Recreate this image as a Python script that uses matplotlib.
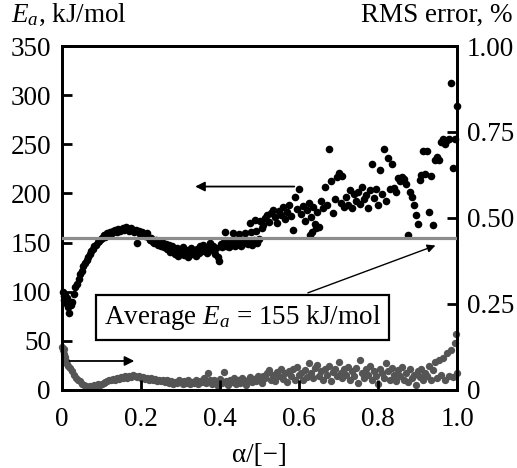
import matplotlib
matplotlib.use("Agg")
import matplotlib.pyplot as plt

plt.rcParams["font.family"] = ["Liberation Serif", "DejaVu Serif"]
plt.rcParams["mathtext.fontset"] = "custom"
plt.rcParams["mathtext.rm"] = "Liberation Serif"
plt.rcParams["mathtext.it"] = "Liberation Serif:italic"
plt.rcParams["font.size"] = 19.5

# activation energy Ea (kJ/mol) vs conversion alpha
alpha_ea = [0.002, 0.004, 0.006, 0.008, 0.010, 0.012, 0.015, 0.018, 0.022, 0.026, 0.030, 0.034, 0.038, 0.042,
            0.046, 0.050, 0.054, 0.058, 0.062, 0.066, 0.070, 0.074, 0.078, 0.082, 0.086, 0.090, 0.094, 0.098,
            0.102, 0.106, 0.110, 0.114, 0.118, 0.122, 0.126, 0.130, 0.134, 0.138, 0.142, 0.146, 0.150, 0.154,
            0.158, 0.162, 0.166, 0.170, 0.174, 0.178, 0.182, 0.186, 0.190, 0.194, 0.198, 0.202, 0.206, 0.210,
            0.214, 0.218, 0.222, 0.226, 0.230, 0.234, 0.238, 0.242, 0.246,
            0.250, 0.254, 0.258, 0.262, 0.266, 0.270, 0.274, 0.278, 0.282, 0.286, 0.290, 0.294, 0.298, 0.302,
            0.306, 0.310, 0.314, 0.318, 0.322, 0.326, 0.330, 0.334, 0.338, 0.342, 0.346, 0.350, 0.354, 0.358,
            0.362, 0.366, 0.370, 0.374, 0.378, 0.382, 0.386, 0.390, 0.394, 0.398, 0.402, 0.406, 0.410, 0.414,
            0.418, 0.422, 0.426, 0.430, 0.434, 0.438, 0.442, 0.446, 0.450, 0.454, 0.458, 0.462, 0.466, 0.470,
            0.474, 0.478, 0.482, 0.486, 0.490, 0.494, 0.498,
            0.412, 0.432, 0.448, 0.462, 0.478, 0.492, 0.476, 0.489,
            0.500, 0.505, 0.510, 0.515, 0.520, 0.525, 0.530, 0.535, 0.540, 0.545, 0.550, 0.555, 0.560, 0.565,
            0.570, 0.575, 0.580, 0.585, 0.590, 0.595, 0.600, 0.605, 0.610, 0.615, 0.620, 0.625, 0.630, 0.635,
            0.640, 0.645, 0.650, 0.655, 0.660, 0.665, 0.670, 0.675, 0.680, 0.685, 0.690, 0.695, 0.700, 0.705,
            0.710, 0.715, 0.628, 0.634, 0.642,
            0.720, 0.725, 0.730, 0.735, 0.740, 0.745, 0.750, 0.755, 0.760, 0.765, 0.770, 0.775, 0.780, 0.785,
            0.790, 0.795, 0.800, 0.805, 0.810, 0.815, 0.820, 0.825, 0.830, 0.835, 0.840, 0.845, 0.850, 0.855,
            0.860, 0.865, 0.870, 0.875, 0.880, 0.885, 0.890, 0.895, 0.900, 0.905, 0.910, 0.915, 0.920, 0.925,
            0.930, 0.935, 0.940, 0.945, 0.950, 0.955, 0.960, 0.965, 0.970, 0.975, 0.980, 0.985, 0.990, 0.995,
            1.000]
ea = [100, 96, 92, 97, 89, 94, 84, 78, 86, 90, 98, 105, 108, 113,
      118, 121, 126, 129, 132, 135, 138, 141, 143, 146, 148, 151, 152, 154,
      155, 158, 156, 160, 159, 161, 160, 162, 163, 161, 164, 162, 163, 165,
      163, 166, 164, 162, 165, 163, 161, 163, 150, 162, 159, 161, 158, 157,
      160, 156, 153, 155, 151, 150, 153, 148, 150,
      147, 151, 145, 149, 143, 148, 140, 146, 142, 138, 144, 136, 141, 139,
      145, 137, 142, 135, 140, 144, 138, 141, 136, 143, 139, 146, 141, 148,
      143, 139, 145, 150, 142, 147, 138, 144, 135, 131, 149, 145, 151, 147,
      150, 145, 152, 148, 150, 146, 151, 149, 152, 147, 151, 150, 153, 149,
      152, 151, 148, 153, 151, 150, 154,
      161, 160, 159, 160, 161, 162, 170, 173,
      172, 165, 168, 175, 178, 171, 180, 183, 176, 170, 182, 178, 186, 174,
      181, 188, 177, 163, 196, 184, 205, 179, 187, 172, 183, 190, 176, 186,
      169, 181, 166, 192, 185, 207, 188, 245, 213, 180, 194, 217, 221, 190,
      218, 186, 158, 161, 165,
      196, 188, 203, 185, 199, 192, 201, 189, 207, 194, 198, 185, 203, 230,
      195, 205, 188, 224, 199, 245, 192, 236, 204, 230, 206, 201, 216, 213,
      217, 215, 210, 158, 201, 196, 188, 178, 169, 214, 219, 243, 220, 243,
      181, 218, 168, 234, 237, 234, 252, 255, 250, 254, 255, 312, 226, 255,
      289]

# RMS error (%) vs conversion alpha
alpha_rms = [0.000, 0.002, 0.004, 0.006, 0.008, 0.010, 0.012, 0.016, 0.020, 0.025, 0.030, 0.035, 0.040, 0.045,
             0.050, 0.055, 0.060, 0.065, 0.070, 0.075, 0.080, 0.085, 0.090, 0.095, 0.100, 0.105, 0.110, 0.115,
             0.120, 0.125, 0.130, 0.135, 0.140, 0.145, 0.150, 0.155, 0.160, 0.165, 0.170, 0.175, 0.180, 0.185,
             0.190, 0.195, 0.200, 0.205, 0.210, 0.215, 0.220, 0.225, 0.230, 0.235, 0.240, 0.245,
             0.250, 0.255, 0.260, 0.265, 0.270, 0.275, 0.280, 0.285, 0.290, 0.295, 0.300, 0.305, 0.310, 0.315,
             0.320, 0.325, 0.330, 0.335, 0.340, 0.345, 0.350, 0.355, 0.360, 0.365, 0.370, 0.375, 0.380, 0.385,
             0.390, 0.395, 0.400, 0.405, 0.410, 0.415, 0.420, 0.425, 0.430, 0.435, 0.440, 0.445, 0.450, 0.455,
             0.460, 0.465, 0.470, 0.475, 0.480, 0.485, 0.490, 0.495, 0.500,
             0.505, 0.510, 0.515, 0.520, 0.525, 0.530, 0.535, 0.540, 0.545, 0.550, 0.555, 0.560, 0.565, 0.570,
             0.575, 0.580, 0.585, 0.590, 0.595, 0.600, 0.605, 0.610, 0.615, 0.620, 0.625, 0.630, 0.635, 0.640,
             0.645, 0.650, 0.655, 0.660, 0.665, 0.670, 0.675, 0.680, 0.685, 0.690, 0.695, 0.700,
             0.705, 0.710, 0.715, 0.720, 0.725, 0.730, 0.735, 0.740, 0.745, 0.750, 0.755, 0.760, 0.765, 0.770,
             0.775, 0.780, 0.785, 0.790, 0.795, 0.800, 0.805, 0.810, 0.815, 0.820, 0.825, 0.830, 0.835, 0.840,
             0.845, 0.850, 0.855, 0.860, 0.865, 0.870, 0.875, 0.880, 0.885, 0.890, 0.895, 0.900, 0.905, 0.910,
             0.915, 0.920, 0.925, 0.930, 0.935, 0.940, 0.945, 0.950,
             0.955, 0.960, 0.965, 0.970, 0.975, 0.980, 0.985, 0.990, 0.995, 1.000, 0.998]
rms = [0.125, 0.115, 0.105, 0.120, 0.095, 0.085, 0.075, 0.070, 0.065, 0.055, 0.045, 0.035, 0.030, 0.025,
       0.018, 0.015, 0.012, 0.010, 0.012, 0.010, 0.014, 0.012, 0.016, 0.015, 0.018, 0.020, 0.022, 0.025,
       0.028, 0.030, 0.033, 0.030, 0.036, 0.032, 0.038, 0.035, 0.040, 0.036, 0.042, 0.038, 0.044, 0.040,
       0.037, 0.041, 0.035, 0.038, 0.032, 0.036, 0.030, 0.034, 0.028, 0.032, 0.026, 0.030,
       0.025, 0.030, 0.022, 0.028, 0.020, 0.026, 0.018, 0.024, 0.020, 0.028, 0.022, 0.018, 0.025, 0.020,
       0.030, 0.016, 0.024, 0.020, 0.028, 0.018, 0.026, 0.022, 0.035, 0.020, 0.050, 0.028, 0.018, 0.030,
       0.024, 0.012, 0.032, 0.020, 0.052, 0.026, 0.015, 0.030, 0.022, 0.036, 0.018, 0.028, 0.020, 0.034,
       0.025, 0.015, 0.030, 0.038, 0.022, 0.032, 0.027, 0.040, 0.030,
       0.020, 0.042, 0.035, 0.050, 0.058, 0.030, 0.045, 0.025, 0.052, 0.040, 0.060, 0.033, 0.048, 0.022,
       0.055, 0.040, 0.062, 0.030, 0.067, 0.045, 0.050, 0.028, 0.058, 0.038, 0.078, 0.050, 0.035, 0.065,
       0.073, 0.042, 0.055, 0.030, 0.060, 0.045, 0.070, 0.025, 0.052, 0.062, 0.040, 0.081,
       0.050, 0.035, 0.060, 0.045, 0.068, 0.028, 0.055, 0.040, 0.065, 0.020, 0.087, 0.050, 0.035, 0.060,
       0.045, 0.070, 0.030, 0.055, 0.040, 0.018, 0.062, 0.048, 0.035, 0.078, 0.055, 0.030, 0.064, 0.045,
       0.025, 0.058, 0.040, 0.068, 0.030, 0.050, 0.022, 0.060, 0.035, 0.045, 0.015, 0.055, 0.038, 0.062,
       0.028, 0.050, 0.040, 0.070, 0.030, 0.058, 0.081, 0.035,
       0.087, 0.045, 0.093, 0.030, 0.107, 0.040, 0.116, 0.038, 0.137, 0.050, 0.163]

avg_ea = 155

fig = plt.figure(figsize=(5.17, 4.68), dpi=100)
ax = fig.add_axes([0.12, 0.1667, 0.764, 0.735])
ax2 = ax.twinx()

ax2.scatter(alpha_rms, rms, s=28, color="#555555", linewidths=0, clip_on=False, zorder=2)
ax.scatter(alpha_ea, ea, s=30, color="black", linewidths=0, clip_on=False, zorder=3)
ax.axhline(avg_ea, color="#8c8c8c", lw=2.3, zorder=4)

ax.set_zorder(ax2.get_zorder() + 1)
ax.patch.set_visible(False)

ax.set_xlim(0, 1.0)
ax.set_ylim(0, 350)
ax2.set_ylim(0, 1.0)

ax.set_xticks([0, 0.2, 0.4, 0.6, 0.8, 1.0])
ax.set_xticklabels(["0", "0.2", "0.4", "0.6", "0.8", "1.0"])
ax.set_yticks([0, 50, 100, 150, 200, 250, 300, 350])
ax2.set_yticks([0, 0.25, 0.5, 0.75, 1.0])
ax2.set_yticklabels(["0", "0.25", "0.50", "0.75", "1.00"])

for a in (ax, ax2):
    for s in a.spines.values():
        s.set_linewidth(2.0)
ax.tick_params(axis="both", direction="in", length=7, width=2.0, pad=8)
ax.tick_params(axis="x", pad=12)
ax.tick_params(axis="y", right=False)
ax2.tick_params(axis="y", direction="in", length=7, width=2.0, pad=7)

fig.text(0.022, 0.968, "$E_a$, kJ/mol", va="center", ha="left")
fig.text(0.992, 0.968, "RMS error, %", va="center", ha="right")
ax.set_xlabel("α/[−]", labelpad=8)

# arrows pointing to the axis of each series
ax.annotate("", xy=(0.33, 207), xytext=(0.595, 207),
            arrowprops=dict(arrowstyle="-|>", color="black", lw=1.3, mutation_scale=14))
ax.annotate("", xy=(0.19, 29.5), xytext=(0.012, 29.5),
            arrowprops=dict(arrowstyle="-|>", color="black", lw=1.3, mutation_scale=14))

ax.annotate("Average $E_a$ = 155 kJ/mol", xy=(0.952, 148), xytext=(0.456, 74),
            ha="center", va="center", zorder=6,
            bbox=dict(boxstyle="square,pad=0.3", fc="white", ec="black", lw=1.6),
            arrowprops=dict(arrowstyle="-|>", color="black", lw=1.0, mutation_scale=12))

fig.savefig("out.png", dpi=100)
